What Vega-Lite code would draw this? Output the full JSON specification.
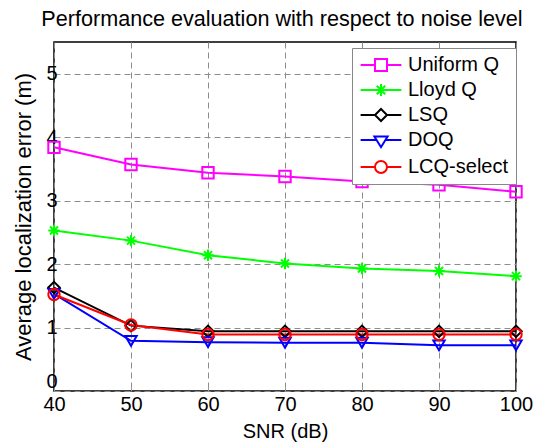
{
  "$schema": "https://vega.github.io/schema/vega-lite/v6.json",
  "width": 462,
  "height": 349,
  "autosize": "none",
  "padding": {"left": 54, "top": 42, "right": 25, "bottom": 56},
  "background": "white",
  "title": {"text": "Performance evaluation with respect to noise level", "font": "Liberation Sans", "fontSize": 21.6, "fontWeight": "normal", "color": "black", "offset": 11, "anchor": "middle", "dx": -3},
  "config": {
    "view": {"stroke": "black", "strokeWidth": 1.5},
    "font": "Liberation Sans"
  },
  "data": {"values": [
    {"snr": 40, "err": 3.84, "method": "Uniform Q"},
    {"snr": 50, "err": 3.57, "method": "Uniform Q"},
    {"snr": 60, "err": 3.44, "method": "Uniform Q"},
    {"snr": 70, "err": 3.38, "method": "Uniform Q"},
    {"snr": 80, "err": 3.30, "method": "Uniform Q"},
    {"snr": 90, "err": 3.25, "method": "Uniform Q"},
    {"snr": 100, "err": 3.14, "method": "Uniform Q"},
    {"snr": 40, "err": 2.53, "method": "Lloyd Q"},
    {"snr": 50, "err": 2.37, "method": "Lloyd Q"},
    {"snr": 60, "err": 2.14, "method": "Lloyd Q"},
    {"snr": 70, "err": 2.01, "method": "Lloyd Q"},
    {"snr": 80, "err": 1.93, "method": "Lloyd Q"},
    {"snr": 90, "err": 1.89, "method": "Lloyd Q"},
    {"snr": 100, "err": 1.81, "method": "Lloyd Q"},
    {"snr": 40, "err": 1.63, "method": "LSQ"},
    {"snr": 50, "err": 1.03, "method": "LSQ"},
    {"snr": 60, "err": 0.94, "method": "LSQ"},
    {"snr": 70, "err": 0.94, "method": "LSQ"},
    {"snr": 80, "err": 0.94, "method": "LSQ"},
    {"snr": 90, "err": 0.94, "method": "LSQ"},
    {"snr": 100, "err": 0.94, "method": "LSQ"},
    {"snr": 40, "err": 1.53, "method": "DOQ"},
    {"snr": 50, "err": 0.79, "method": "DOQ"},
    {"snr": 60, "err": 0.77, "method": "DOQ"},
    {"snr": 70, "err": 0.76, "method": "DOQ"},
    {"snr": 80, "err": 0.76, "method": "DOQ"},
    {"snr": 90, "err": 0.72, "method": "DOQ"},
    {"snr": 100, "err": 0.72, "method": "DOQ"},
    {"snr": 40, "err": 1.52, "method": "LCQ-select"},
    {"snr": 50, "err": 1.04, "method": "LCQ-select"},
    {"snr": 60, "err": 0.89, "method": "LCQ-select"},
    {"snr": 70, "err": 0.89, "method": "LCQ-select"},
    {"snr": 80, "err": 0.89, "method": "LCQ-select"},
    {"snr": 90, "err": 0.89, "method": "LCQ-select"},
    {"snr": 100, "err": 0.89, "method": "LCQ-select"}
  ]},
  "encoding": {
    "x": {"field": "snr", "type": "quantitative", "scale": {"domain": [40, 100], "nice": false},
      "axis": {"title": "SNR (dB)", "values": [40, 50, 60, 70, 80, 90, 100], "grid": true, "gridDash": [6, 4], "gridColor": "#8c8c8c", "gridOpacity": 1, "domain": false, "tickSize": -5, "tickColor": "#999999", "labelFlush": false, "labelFont": "Liberation Sans", "labelFontSize": 20, "labelColor": "black", "labelPadding": 8, "titleFont": "Liberation Sans", "titleFontSize": 20, "titleFontWeight": "normal", "titleColor": "black", "titlePadding": 7}},
    "y": {"field": "err", "type": "quantitative", "scale": {"domain": [0, 5.5], "nice": false},
      "axis": {"title": "Average localization error (m)", "values": [0, 1, 2, 3, 4, 5], "grid": true, "gridDash": [6, 4], "gridColor": "#8c8c8c", "gridOpacity": 1, "domain": false, "tickSize": -5, "tickColor": "#999999", "labelFlush": true, "labelFont": "Liberation Sans", "labelFontSize": 20, "labelColor": "black", "labelPadding": 2, "titleFont": "Liberation Sans", "titleFontSize": 22, "titleFontWeight": "normal", "titleColor": "black", "titlePadding": 10}}
  },
  "layer": [
    {"mark": {"type": "line", "strokeWidth": 2},
      "encoding": {
        "color": {"field": "method", "type": "nominal",
          "scale": {"domain": ["Uniform Q", "Lloyd Q", "LSQ", "DOQ", "LCQ-select"], "range": ["#ff00ff", "#00ff00", "#000000", "#0000ff", "#ff0000"]},
          "legend": null}
      }
    },
    {"mark": {"type": "point", "filled": false, "strokeWidth": 2, "size": 130, "opacity": 1},
      "encoding": {
        "color": {"field": "method", "type": "nominal",
          "scale": {"domain": ["Uniform Q", "Lloyd Q", "LSQ", "DOQ", "LCQ-select"], "range": ["#ff00ff", "#00ff00", "#000000", "#0000ff", "#ff0000"]},
          "legend": null},
        "shape": {"field": "method", "type": "nominal",
          "scale": {"domain": ["Uniform Q", "Lloyd Q", "LSQ", "DOQ", "LCQ-select"], "range": ["square", "M-1,0L1,0M0,-1L0,1M-0.7,-0.7L0.7,0.7M-0.7,0.7L0.7,-0.7", "diamond", "triangle-down", "circle"]},
          "legend": null}
      }
    },
    {"mark": {"type": "point", "filled": false, "strokeWidth": 2, "size": 144, "opacity": 0},
      "encoding": {
        "color": {"field": "method", "type": "nominal",
          "scale": {"domain": ["Uniform Q", "Lloyd Q", "LSQ", "DOQ", "LCQ-select"], "range": ["#ff00ff", "#00ff00", "#000000", "#0000ff", "#ff0000"]},
          "legend": {"title": null, "orient": "none", "legendX": 298, "legendY": 6, "strokeColor": "#888888", "fillColor": "white", "padding": 7, "labelFont": "Liberation Sans", "labelFontSize": 20, "labelColor": "black", "symbolSize": 144, "symbolStrokeWidth": 2, "symbolOpacity": 1, "symbolFillColor": "transparent", "rowPadding": 5, "labelOffset": 17, "symbolOffset": 12}},
        "shape": {"field": "method", "type": "nominal",
          "scale": {"domain": ["Uniform Q", "Lloyd Q", "LSQ", "DOQ", "LCQ-select"], "range": [
            "M-3.4,0L-1,0M1,0L3.4,0M-1,-1L1,-1L1,1L-1,1Z",
            "M-3.4,0L3.4,0M0,-1L0,1M-0.7,-0.7L0.7,0.7M-0.7,0.7L0.7,-0.7",
            "M-3.4,0L-1,0M1,0L3.4,0M0,-1L1,0L0,1L-1,0Z",
            "M-3.4,0L-0.73,0M0.73,0L3.4,0M-1.1,-0.6L1.1,-0.6L0,1.2Z",
            "M-3.4,0L-1,0M1,0L3.4,0M1,0A1,1,0,1,1,-1,0A1,1,0,1,1,1,0Z"]},
          "legend": {"title": null, "orient": "none", "legendX": 298, "legendY": 6, "strokeColor": "#888888", "fillColor": "white", "padding": 7, "labelFont": "Liberation Sans", "labelFontSize": 20, "labelColor": "black", "symbolSize": 144, "symbolStrokeWidth": 2, "symbolOpacity": 1, "symbolFillColor": "transparent", "rowPadding": 5, "labelOffset": 17, "symbolOffset": 12}}
      }
    }
  ],
  "resolve": {"scale": {"shape": "independent"}, "legend": {"shape": "independent", "color": "independent"}}
}
